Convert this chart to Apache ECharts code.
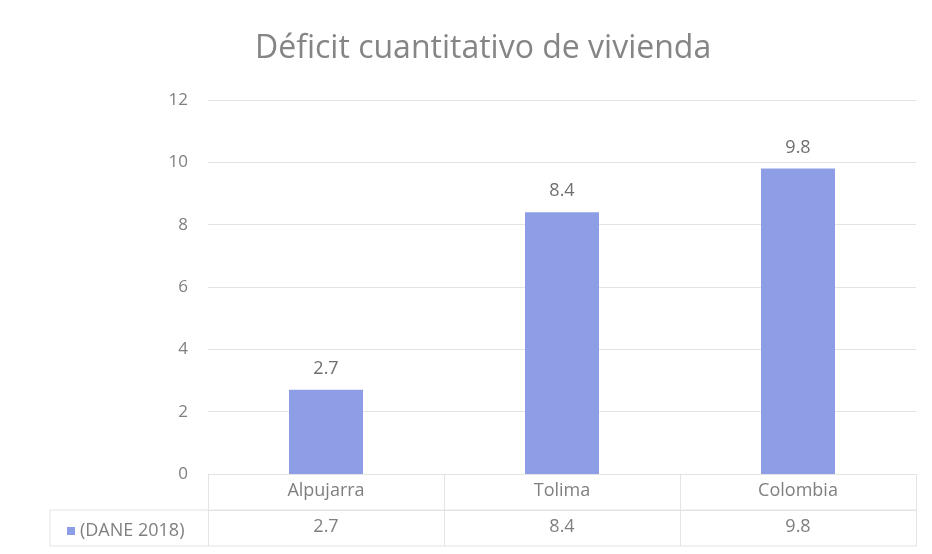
<!DOCTYPE html>
<html>
<head>
<meta charset="utf-8">
<script src="https://cdn.jsdelivr.net/npm/echarts@6/dist/echarts.min.js"></script>
<style>
  html, body { margin: 0; padding: 0; background: #fff; }
  #chart { width: 932px; height: 554px; }
</style>
</head>
<body>
<div id="chart"></div>
<script>
// datos
var categorias = ['Alpujarra', 'Tolima', 'Colombia'];
var valores = [2.7, 8.4, 9.8];
var serieNombre = '(DANE 2018)';
var ticksY = [0, 2, 4, 6, 8, 10, 12];

var GRIS = '#7f7f7f', LINEA = '#e3e3e3';

var chart = echarts.init(document.getElementById('chart'));
var option = {
    backgroundColor: '#fff',
    textStyle: { fontFamily: 'Open Sans' },
    title: {
        text: 'Déficit cuantitativo de vivienda',
        left: 250, top: 28,
        textStyle: { fontSize: 32, fontWeight: 'normal', color: '#858585', fontFamily: 'Open Sans' }
    },
    legend: {
        data: [serieNombre],
        left: 62, top: 517,
        icon: 'rect', itemWidth: 8, itemHeight: 8, itemGap: 6,
        textStyle: { fontSize: 18, color: GRIS },
        selectedMode: false
    },
    grid: { left: 208, right: 16, top: 100, bottom: 80 },
    xAxis: [
        {
            type: 'category',
            data: categorias,
            axisLine: { lineStyle: { color: LINEA } },
            axisTick: { show: true, length: 72, lineStyle: { color: LINEA } },
            axisLabel: { fontSize: 18, color: GRIS, margin: 8 }
        },
        {
            type: 'category',
            position: 'bottom',
            offset: 36,
            data: valores.map(function (v) { return v.toFixed(1); }),
            axisLine: { show: true, lineStyle: { color: LINEA } },
            axisTick: { show: false },
            axisLabel: { fontSize: 18, color: GRIS, margin: 8 }
        }
    ],
    yAxis: {
        type: 'value',
        min: ticksY[0], max: ticksY[ticksY.length - 1], interval: 2,
        axisLine: { show: false },
        axisTick: { show: false },
        splitLine: { lineStyle: { color: LINEA } },
        axisLabel: { fontSize: 17, color: GRIS, margin: 20 }
    },
    series: [{
        name: serieNombre,
        type: 'bar',
        data: valores,
        barWidth: 74,
        itemStyle: { color: '#8e9ee6' },
        label: { show: true, position: 'top', distance: 12, fontSize: 18, color: '#6f6f6f',
                 formatter: function (p) { return p.value.toFixed(1); } }
    }],
    graphic: [
        // bordes de la tabla de datos
        { type: 'line', shape: { x1: 50, y1: 510, x2: 916, y2: 510 }, style: { stroke: LINEA, lineWidth: 1 } },
        { type: 'line', shape: { x1: 50, y1: 546, x2: 916, y2: 546 }, style: { stroke: LINEA, lineWidth: 1 } },
        { type: 'line', shape: { x1: 50, y1: 510, x2: 50, y2: 546 }, style: { stroke: LINEA, lineWidth: 1 } }
    ]
};
chart.setOption(option);
</script>
</body>
</html>
